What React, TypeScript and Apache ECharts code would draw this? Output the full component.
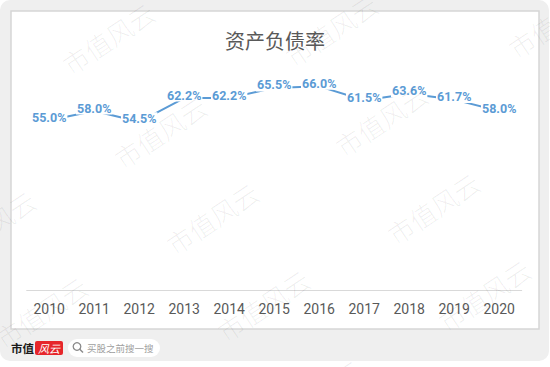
import React, { useEffect, useRef } from "react";
import * as echarts from "echarts";

const titleText = "资产负债率";
const years = ["2010", "2011", "2012", "2013", "2014", "2015", "2016", "2017", "2018", "2019", "2020"];
const debtRatio = [55.0, 58.0, 54.5, 62.2, 62.2, 65.5, 66.0, 61.5, 63.6, 61.7, 58.0];
const watermarkText = "市值风云";
const watermarkCenters: [number, number][] = [
  [108, 38], [331, 30], [554, 22],
  [160, 132], [381, 120], [604, 108],
  [-11, 226], [212, 218], [433, 208],
  [41, 312], [263, 305], [484, 295],
  [93, 400], [316, 395], [539, 388],
];

const LINE_COLOR = "#5B9BD5";

export default function App() {
  const ref = useRef<HTMLDivElement>(null);
  useEffect(() => {
    if (!ref.current) return;
    const chart = echarts.init(ref.current, undefined, { renderer: "svg" });
    const watermarks = watermarkCenters.map(([x, y]) => ({
      type: "text",
      x,
      y,
      rotation: 0.59,
      z: 100,
      silent: true,
      style: {
        text: watermarkText,
        fontSize: 26,
        fontWeight: 200,
        fontFamily: "Noto Sans CJK SC",
        fill: "rgba(0,0,0,0.065)",
        align: "center",
        verticalAlign: "middle",
      },
    }));
    chart.setOption({
      animation: false,
      title: {
        text: titleText,
        left: "center",
        top: 25,
        textStyle: {
          fontSize: 20,
          fontWeight: "normal",
          color: "#595959",
          fontFamily: "Noto Sans CJK SC",
        },
      },
      grid: { left: 26.7, right: 28.3, top: 74, bottom: 77, containLabel: false },
      xAxis: {
        type: "category",
        data: years,
        boundaryGap: true,
        axisLine: { show: true, lineStyle: { color: "#d9d9d9", width: 1 } },
        axisTick: { show: false },
        axisLabel: {
          color: "#595959",
          fontSize: 14,
          fontFamily: "Roboto",
          margin: 12,
        },
        z: 3,
      },
      yAxis: {
        type: "value",
        min: 0,
        max: 70,
        show: false,
        splitLine: { show: false },
      },
      series: [
        {
          type: "line",
          data: debtRatio,
          symbol: "circle",
          symbolSize: 2,
          itemStyle: { color: LINE_COLOR },
          lineStyle: { color: LINE_COLOR, width: 2 },
          label: {
            show: true,
            position: "inside",
            offset: [0, -3],
            formatter: (p: any) => p.value.toFixed(1) + "%",
            color: LINE_COLOR,
            fontSize: 12.5,
            fontWeight: "bold",
            fontFamily: "Roboto",
            backgroundColor: "#ffffff",
            padding: [0, 1],
          },
          z: 5,
        },
      ],
      graphic: [
        {
          type: "rect",
          z: -10,
          silent: true,
          shape: { x: 0, y: 0, width: 549, height: 361, r: 10 },
          style: { fill: "#efefef" },
        },
        {
          type: "rect",
          z: -9,
          silent: true,
          shape: { x: 11, y: 11, width: 528, height: 318 },
          style: { fill: "#ffffff", stroke: "#d6d6d6", lineWidth: 1.5 },
        },
        {
          type: "text",
          z: 10,
          x: 11,
          y: 348,
          style: {
            text: "市值",
            fontSize: 11.5,
            fontWeight: "bold",
            fontFamily: "Noto Sans CJK SC",
            fill: "#1a1a1a",
            align: "left",
            verticalAlign: "middle",
          },
        },
        {
          type: "rect",
          z: 10,
          shape: { x: 35, y: 341, width: 28, height: 14, r: 2 },
          style: { fill: "#e6262b" },
        },
        {
          type: "text",
          z: 11,
          x: 49,
          y: 348,
          style: {
            text: "风云",
            fontSize: 11,
            fontStyle: "italic",
            fontFamily: "Noto Sans CJK SC",
            fill: "#ffffff",
            align: "center",
            verticalAlign: "middle",
          },
        },
        {
          type: "rect",
          z: 10,
          shape: { x: 68, y: 339, width: 92, height: 18, r: 9 },
          style: { fill: "#ffffff" },
        },
        {
          type: "circle",
          z: 11,
          shape: { cx: 77, cy: 346.5, r: 3.8 },
          style: { fill: "none", stroke: "#8a8a8a", lineWidth: 1.3 },
        },
        {
          type: "line",
          z: 11,
          shape: { x1: 79.8, y1: 349.3, x2: 83, y2: 352.5 },
          style: { stroke: "#8a8a8a", lineWidth: 1.4 },
        },
        {
          type: "text",
          z: 11,
          x: 87,
          y: 348,
          style: {
            text: "买股之前搜一搜",
            fontSize: 9.5,
            fontFamily: "Noto Sans CJK SC",
            fill: "#a0a0a0",
            align: "left",
            verticalAlign: "middle",
          },
        },
        ...watermarks,
      ],
    });
    return () => chart.dispose();
  }, []);
  return (
    <div
      ref={ref}
      style={{ position: "fixed", left: 0, top: 0, width: 550, height: 367, background: "#ffffff" }}
    />
  );
}
